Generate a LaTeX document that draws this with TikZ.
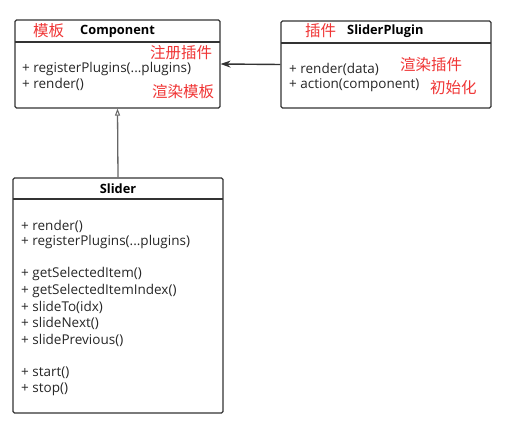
\documentclass[tikz,border=0pt]{standalone}
\usepackage{fontspec}
\setmainfont{Open Sans}
\newfontfamily\cjk{Noto Sans CJK SC}
\usetikzlibrary{arrows.meta}
\definecolor{lin}{HTML}{333333}
\definecolor{note}{HTML}{F03535}
\tikzset{
  box/.style={draw=lin, line width=1.1pt, rounded corners=1.5pt, inner sep=0pt},
  sep/.style={draw=lin, line width=1.1pt},
  mth/.style={anchor=west, inner sep=0pt, font=\fontsize{13.5}{15}\selectfont, text=black!85},
  ttl/.style={anchor=west, inner sep=0pt, font=\fontsize{12.8}{14}\selectfont\bfseries},
  cn/.style={anchor=west, inner sep=0pt, font=\cjk\fontsize{15.5}{17}\selectfont, text=note},
  conn/.style={draw=black!80, line width=1.4pt},
  inh/.style={draw=black!60, line width=1.3pt}
}
\begin{document}
\begin{tikzpicture}[x=1pt,y=-1pt]
\useasboundingbox (0,0) rectangle (507,425);
\fill[white] (0,0) rectangle (507,425);
% Component
\node[box, minimum width=205pt, minimum height=88pt] (comp) at (117.5,64) {};
\draw[sep] (15,42) -- (220,42);
\node[cn] (c1) at (33,31) {模板};
\node[ttl] (c2) at (80,31) {Component};
\node[cn] (c3) at (150,53) {注册插件};
\node[mth] (c4) at (22,69) {+ registerPlugins(...plugins)};
\node[mth] (c5) at (22,84) {+ render()};
\node[cn] (c6) at (152,92) {渲染模板};
% SliderPlugin
\node[box, minimum width=210pt, minimum height=87pt] (plug) at (386,64.5) {};
\draw[sep] (281,43) -- (491,43);
\node[cn] (p1) at (305,31) {插件};
\node[ttl] (p2) at (347,31) {SliderPlugin};
\node[mth] (p3) at (289,69) {+ render(data)};
\node[cn] (p4) at (400,65) {渲染插件};
\node[mth] (p5) at (289,85) {+ action(component)};
\node[cn] (p6) at (430,88) {初始化};
% Slider
\node[box, minimum width=210pt, minimum height=235pt] (slider) at (118,295.5) {};
\draw[sep] (13,199) -- (223,199);
\node[ttl, anchor=center] (s0) at (118,189) {Slider};
\node[mth] (s1) at (21,226) {+ render()};
\node[mth] (s2) at (21,242) {+ registerPlugins(...plugins)};
\node[mth] (s3) at (21,274) {+ getSelectedItem()};
\node[mth] (s4) at (21,291) {+ getSelectedItemIndex()};
\node[mth] (s5) at (21,307) {+ slideTo(idx)};
\node[mth] (s6) at (21,323) {+ slideNext()};
\node[mth] (s7) at (21,340) {+ slidePrevious()};
\node[mth] (s8) at (21,373) {+ start()};
\node[mth] (s9) at (21,389) {+ stop()};
% connectors
\draw[conn, -{Stealth[length=10pt,width=7pt]}] (plug.west) -- (comp.east);
\draw[inh, -{Triangle[open,length=7pt,width=5pt,line width=1pt]}] (slider.north) -- (comp.south);
\end{tikzpicture}
\end{document}
